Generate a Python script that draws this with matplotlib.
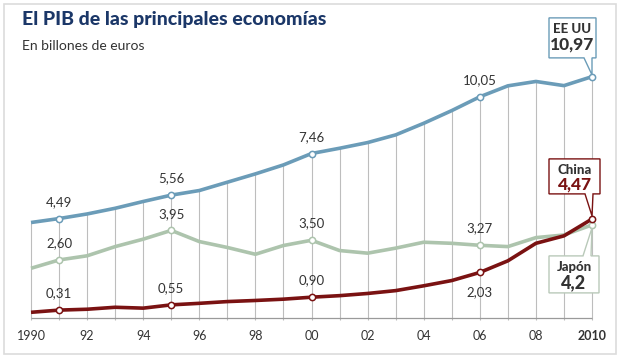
import matplotlib
matplotlib.use("Agg")
from matplotlib import pyplot as plt
from matplotlib.patches import Rectangle, Polygon

years = list(range(1990, 2011))
eeuu = [4.31, 4.49, 4.70, 4.96, 5.27, 5.56, 5.77, 6.15, 6.53, 6.94, 7.46,
        7.70, 7.96, 8.31, 8.84, 9.42, 10.05, 10.55, 10.75, 10.56, 10.97]
japon = [2.22, 2.60, 2.79, 3.21, 3.55, 3.95, 3.44, 3.17, 2.86, 3.26, 3.50,
         3.03, 2.91, 3.14, 3.41, 3.36, 3.27, 3.21, 3.62, 3.74, 4.20]
china = [0.21, 0.31, 0.35, 0.44, 0.40, 0.55, 0.62, 0.70, 0.75, 0.81, 0.90,
         0.97, 1.07, 1.20, 1.42, 1.66, 2.03, 2.56, 3.36, 3.70, 4.47]

marcados = [1991, 1995, 2000, 2006]
tick_years = list(range(1990, 2011, 2))
tick_labels = ["1990", "92", "94", "96", "98", "00", "02", "04", "06", "08", "2010"]

AZUL = "#6b9cb8"
VERDE = "#adc4ad"
ROJO = "#7a1212"
TEXTO = "#333333"

plt.rcParams['font.family'] = ['Lato', 'DejaVu Sans']

fig = plt.figure(figsize=(6.2, 3.57), dpi=100)
fig.patches.append(Rectangle((4 / 620, 3 / 357), 612 / 620, 350 / 357,
                             transform=fig.transFigure, fill=False,
                             edgecolor="#dcdcdc", linewidth=1.2))

ax = fig.add_axes([31 / 620, 39 / 357, 561 / 620, 258 / 357])
ax.set_xlim(1990, 2010)
ax.set_ylim(-0.05, 11.73)
for s in ax.spines.values():
    s.set_visible(False)
ax.set_yticks([])
ax.set_xticks([])

# rejilla vertical hasta la linea de EE UU
ax.vlines(years, -0.15, eeuu, color="#bdbdbd", linewidth=0.8, zorder=1, clip_on=False)
ax.hlines(-0.05, 1990, 2010, color="#9a9a9a", linewidth=0.9, zorder=1, clip_on=False)

for x, lab in zip(tick_years, tick_labels):
    ax.text(x, -0.85, lab, ha="center", va="center", fontsize=9, color=TEXTO,
            fontweight="bold" if lab == "2010" else "normal")

for serie, color in [(eeuu, AZUL), (japon, VERDE), (china, ROJO)]:
    ax.plot(years, serie, color=color, linewidth=2.6, zorder=3,
            solid_capstyle="butt", clip_on=False)
    mx = [y for y in years if y in marcados] + [2010]
    my = [serie[years.index(y)] for y in mx]
    ax.plot(mx, my, "o", markersize=4.5, markerfacecolor="white",
            markeredgecolor=color, markeredgewidth=1.1, zorder=4, clip_on=False)

for serie in [eeuu, japon, china]:
    for y in marcados:
        v = serie[years.index(y)]
        off = 12
        if serie is china and y == 2006:
            off = -14
        ax.annotate(f"{v:.2f}".replace(".", ","), (y, v), xytext=(0, off),
                    textcoords="offset points", ha="center", va="center",
                    fontsize=9.5, color=TEXTO)


def px(x, y):
    return (1990 + (x - 31) / 28.05, (317 - y) / 21.9)


def caja(x0, y0, x1, y1, cola, borde):
    pts = [px(x0, y0), px(x1, y0), px(x1, y1)]
    if cola[0][1] > y1:
        pts += [px(cola[1][0], y1), px(*cola[2]), px(cola[0][0], y1)]
    pts += [px(x0, y1)]
    if cola[0][1] < y0:
        pts = [px(x0, y0), px(cola[0][0], y0), px(*cola[2]), px(cola[1][0], y0),
               px(x1, y0), px(x1, y1), px(x0, y1)]
    ax.add_patch(Polygon(pts, closed=True, facecolor="white", edgecolor=borde,
                         linewidth=1.0, zorder=5, clip_on=False))


caja(549, 18, 596, 58, [(584, 70), (592, 70), (592, 75)], AZUL)
cx, cy = px(572.5, 29)
ax.text(cx, cy, "EE UU", ha="center", va="center", fontsize=9.5,
        fontweight="black", color=TEXTO, zorder=6)
cx, cy = px(572.5, 45)
ax.text(cx, cy, "10,97", ha="center", va="center", fontsize=12.5,
        fontweight="black", color=TEXTO, zorder=6)

caja(549, 159, 600, 194, [(585, 210), (593, 210), (592, 216)], ROJO)
cx, cy = px(574.5, 170)
ax.text(cx, cy, "China", ha="center", va="center", fontsize=9.5,
        fontweight="black", color=TEXTO, zorder=6)
cx, cy = px(574.5, 185)
ax.text(cx, cy, "4,47", ha="center", va="center", fontsize=12.5,
        fontweight="black", color=ROJO, zorder=6)

caja(549, 256, 599, 293, [(583, 240), (591, 240), (592, 228)], "#b9c9b9")
cx, cy = px(574, 267)
ax.text(cx, cy, "Japón", ha="center", va="center", fontsize=9.5,
        fontweight="black", color=TEXTO, zorder=6)
cx, cy = px(574, 283)
ax.text(cx, cy, "4,2", ha="center", va="center", fontsize=13,
        fontweight="black", color=TEXTO, zorder=6)

fig.text(22 / 620, 1 - 19 / 357, "El PIB de las principales economías",
         fontsize=14, fontweight="black", color="#1b3768", va="center", ha="left")
fig.text(22 / 620, 1 - 46 / 357, "En billones de euros",
         fontsize=10, color=TEXTO, va="center", ha="left")

fig.savefig("out.png", dpi=100)
